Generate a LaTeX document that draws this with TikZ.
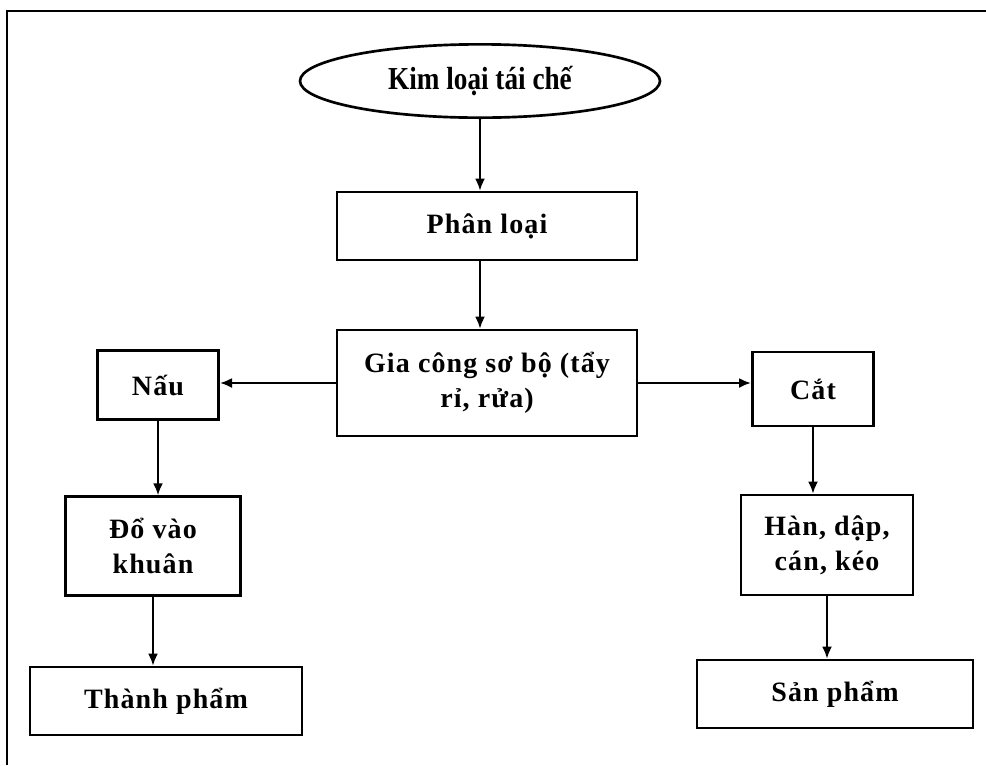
\documentclass[tikz,border=0pt]{standalone}
\usepackage{fontspec}
\setmainfont{Liberation Serif}
\newfontfamily\stepfont[LetterSpace=4]{Liberation Serif}
\newfontfamily\ovalfont[FakeStretch=0.85]{Liberation Serif}
\usetikzlibrary{arrows.meta,shapes.geometric}

\tikzset{
  stepbox/.style={draw, line width=2pt, inner sep=0pt, align=center,
    font=\stepfont\bfseries\fontsize{21}{26}\selectfont},
  startoval/.style={ellipse, draw, line width=2pt, inner sep=0pt,
    minimum width=270pt, minimum height=55pt,
    font=\ovalfont\bfseries\fontsize{24}{28}\selectfont},
  flow/.style={-{Latex[length=9pt,width=7.5pt]}, line width=1.6pt}
}

\begin{document}
\begin{tikzpicture}[x=0.75pt,y=-0.75pt]
\useasboundingbox (0,0) rectangle (986,765);

%% frame
\draw[line width=1.8pt] (986,11) -- (7,11) -- (7,765);

%% steps
\node[startoval] (kimloai) at (480,81) {Kim loại tái chế};
\node[stepbox, minimum width=225pt, minimum height=51pt] (phanloai) at (487,226) {Phân loại};
\node[stepbox, minimum width=225pt, minimum height=79.5pt] (giacong) at (487,383) {Gia công sơ bộ (tẩy\\rỉ, rửa)};
\node[stepbox, minimum width=91pt, minimum height=52pt] (nau) at (158,385) {Nấu};
\node[stepbox, minimum width=91pt, minimum height=55.5pt] (cat) at (813,389) {Cắt};
\node[stepbox, minimum width=131pt, minimum height=74pt] (dovao) at (153,546) {Đổ vào\\khuân};
\node[stepbox, minimum width=129pt, minimum height=75pt] (han) at (827,545) {Hàn, dập,\\cán, kéo};
\node[stepbox, minimum width=204pt, minimum height=51pt] (thanhpham) at (166,701) {Thành phẩm};
\node[stepbox, minimum width=207pt, minimum height=51pt] (sanpham) at (835,694) {Sản phẩm};

%% arrows
\draw[flow] (kimloai.south) -- (kimloai.south |- phanloai.north);   %% kimloai-phanloai
\draw[flow] (phanloai.south -| kimloai) -- (giacong.north -| kimloai);   %% phanloai-giacong
\draw[flow] (giacong.west) -- (giacong.west -| nau.east);   %% giacong-nau
\draw[flow] (giacong.east) -- (giacong.east -| cat.west);   %% giacong-cat
\draw[flow] (nau.south) -- (nau.south |- dovao.north);   %% nau-dovao
\draw[flow] (dovao.south) -- (dovao.south |- thanhpham.north);   %% dovao-thanhpham
\draw[flow] (cat.south) -- (cat.south |- han.north);   %% cat-han
\draw[flow] (han.south) -- (han.south |- sanpham.north);   %% han-sanpham
\end{tikzpicture}
\end{document}
